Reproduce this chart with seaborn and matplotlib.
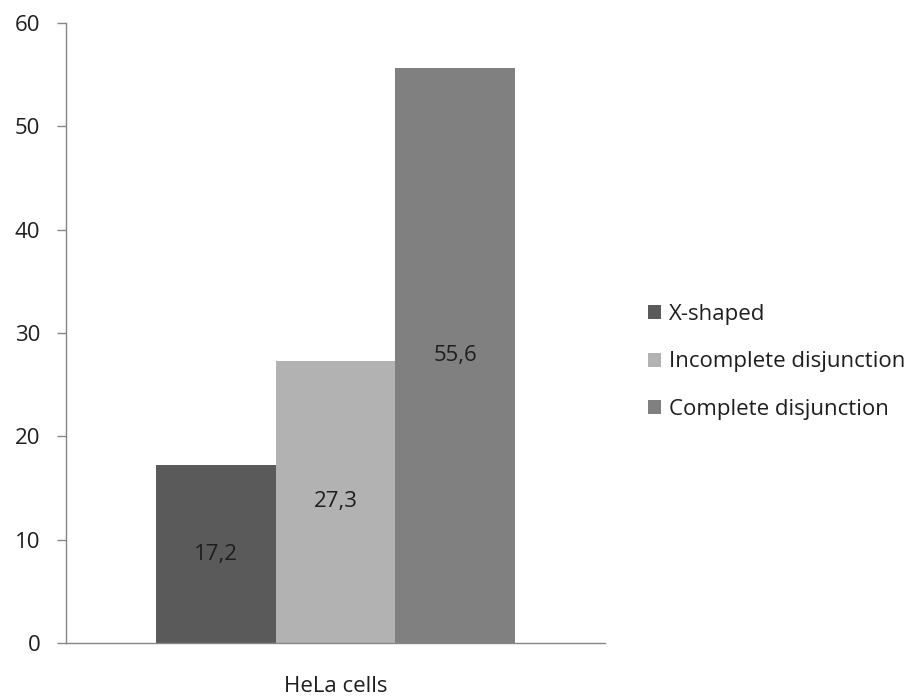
import matplotlib
matplotlib.use("Agg")
import matplotlib.pyplot as plt
import seaborn as sns
import pandas as pd
from matplotlib.patches import Patch

categories = ["HeLa cells"]
series = ["X-shaped", "Incomplete disjunction", "Complete disjunction"]
values = [17.2, 27.3, 55.6]
value_labels = ["17,2", "27,3", "55,6"]
colors = ["#5a5a5a", "#b2b2b2", "#808080"]
yticks = [0, 10, 20, 30, 40, 50, 60]

df = pd.DataFrame({"cat": categories * len(series), "series": series, "value": values})

sns.set_theme(style="white")
plt.rcParams["font.family"] = ["Open Sans", "DejaVu Sans"]

FS = 16
TXT = "#1e1e1e"

fig = plt.figure(figsize=(9.22, 7.0), dpi=100)
ax = fig.add_axes([66 / 922, 57 / 700, 539 / 922, 620 / 700])

sns.barplot(data=df, x="cat", y="value", hue="series", hue_order=series,
            palette=colors, width=0.667, saturation=1, ax=ax, legend=False,
            edgecolor="none", linewidth=0)

ax.set_xlim(-0.5, 0.5)
ax.set_ylim(0, 60)
ax.set_yticks(yticks)
ax.set_yticklabels([str(t) for t in yticks], fontsize=FS, color=TXT)
ax.set_xlabel("")
ax.set_ylabel("")
ax.tick_params(axis="x", length=0, labelsize=FS, labelcolor=TXT, pad=24)
ax.tick_params(axis="y", length=6.5, width=1, color="#868686", left=True, pad=12)

for side in ["top", "right"]:
    ax.spines[side].set_visible(False)
for side in ["left", "bottom"]:
    ax.spines[side].set_color("#868686")
    ax.spines[side].set_linewidth(1)

for patch, lab in zip(ax.patches, value_labels):
    x = patch.get_x() + patch.get_width() / 2
    y = patch.get_height() / 2
    ax.text(x, y, lab, ha="center", va="center", fontsize=FS, color=TXT)

handles = [Patch(facecolor=c, edgecolor="none") for c in colors]
fig.legend(handles, series, loc="center left", bbox_to_anchor=(0.681, 0.483),
           frameon=False, fontsize=FS, handlelength=0.6, handleheight=0.6,
           handletextpad=0.36, labelspacing=1.2, labelcolor=TXT)

fig.savefig("out.png", dpi=100, facecolor="white")
